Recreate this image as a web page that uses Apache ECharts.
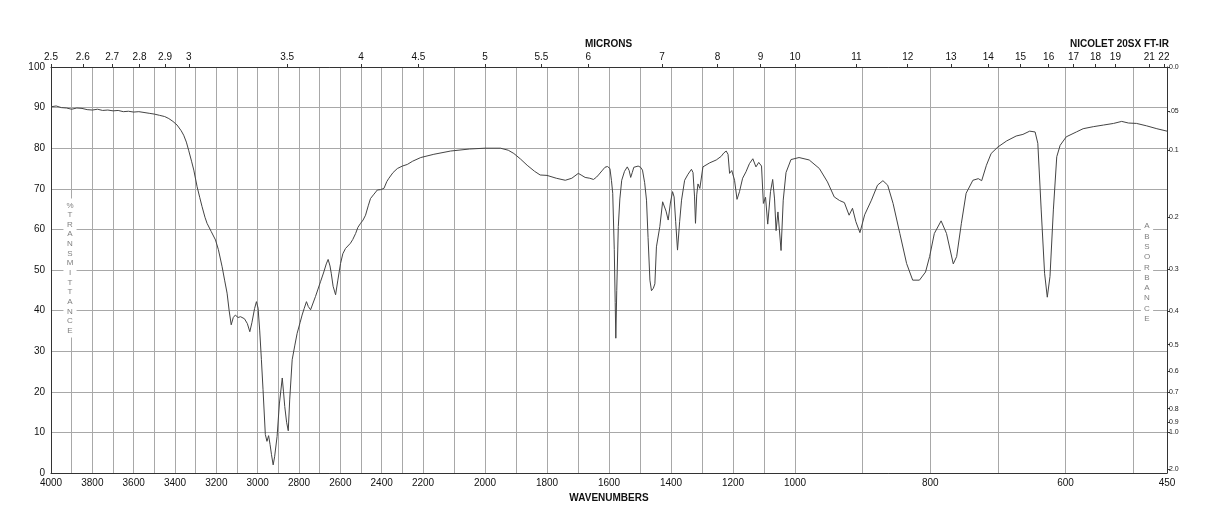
<!DOCTYPE html>
<html><head><meta charset="utf-8">
<script src="https://cdn.jsdelivr.net/npm/echarts@6/dist/echarts.min.js"></script>
<style>html,body{margin:0;padding:0;background:#fff}#c{width:1218px;height:528px}</style>
</head><body><div id="c"></div>
<script>
// Spectrum readings (wavenumber cm-1, %T)
const wavenumbers = [4000,3975,3950,3925,3900,3875,3850,3825,3800,3775,3750,3725,3700,3675,3650,3625,3600,3575,3550,3525,3500,3475,3450,3430,3410,3390,3370,3358,3345,3334,3320,3309,3293,3280,3269,3255,3245,3225,3204,3190,3172,3160,3148,3138,3128,3118,3108,3095,3083,3064,3050,3038,3028,3015,3006,2998,2990,2982,2974,2963,2955,2947,2940,2933,2925,2918,2906,2895,2881,2875,2869,2860,2852,2845,2833,2820,2809,2795,2785,2775,2764,2755,2744,2735,2720,2696,2680,2668,2659,2650,2644,2635,2623,2612,2599,2588,2575,2551,2540,2526,2515,2502,2490,2478,2465,2454,2440,2421,2405,2389,2375,2365,2345,2324,2300,2276,2250,2211,2165,2111,2050,2000,1950,1925,1907,1885,1864,1840,1822,1800,1770,1741,1720,1699,1690,1677,1662,1650,1640,1634,1623,1613,1605,1597,1592,1588,1583,1580,1578,1575,1570,1565,1559,1550,1541,1535,1530,1525,1520,1506,1498,1492,1485,1479,1474,1468,1463,1457,1452,1447,1436,1427,1422,1416,1409,1402,1395,1390,1385,1379,1372,1366,1356,1345,1334,1329,1324,1321,1317,1313,1307,1297,1275,1254,1238,1230,1222,1216,1211,1204,1195,1187,1179,1169,1158,1147,1136,1126,1117,1108,1102,1095,1088,1079,1072,1066,1061,1055,1045,1038,1029,1013,994,979,964,952,942,934,927,920,915,910,904,897,887,878,870,863,855,845,835,826,816,807,801,794,784,776,766,761,754,747,737,729,724,717,710,700,687,673,663,653,645,641,636,631,627,623,618,613,608,599,584,574,559,544,529,517,507,495,480,465,450];
const transmittance = [90.2,90.4,90.0,89.9,89.6,89.9,89.8,89.5,89.4,89.6,89.3,89.4,89.2,89.3,89.0,89.1,88.9,89.0,88.8,88.6,88.4,88.1,87.8,87.3,86.6,85.7,84.3,83.2,81.5,79.5,76.8,74.6,70.5,67.8,65.6,63.0,61.5,59.5,57.4,55.0,50.8,47.5,44.3,40.0,36.5,38.3,38.9,38.3,38.5,38.0,36.8,34.8,37.0,40.5,42.2,40.6,35.0,28.0,20.5,9.5,7.8,9.2,7.0,4.5,2.0,4.0,9.0,17.0,23.4,20.0,16.4,12.5,10.4,18.0,27.9,31.5,34.4,37.0,38.9,40.5,42.2,41.0,40.2,40.6,43.5,47.1,49.5,51.5,52.6,51.0,49.2,46.0,43.9,47.5,51.6,54.0,55.3,56.6,57.5,59.0,60.5,61.5,62.3,63.5,65.8,67.6,68.5,69.7,69.8,70.1,71.8,72.6,74.0,75.0,75.6,76.0,76.8,77.7,78.5,79.3,79.8,80.0,80.0,79.5,78.7,77.3,75.8,74.3,73.4,73.3,72.6,72.1,72.6,73.8,73.4,72.8,72.6,72.3,72.9,73.4,74.4,75.3,75.5,75.0,72.0,68.9,55.0,42.0,33.2,45.0,60.7,67.5,72.1,74.3,75.4,74.5,72.8,74.0,75.3,75.6,75.3,74.6,71.5,67.2,58.0,47.5,44.9,45.5,46.6,55.7,60.7,66.8,66.8,64.5,62.3,66.5,69.3,68.0,62.0,54.9,62.0,67.2,72.1,73.6,74.8,74.0,68.0,61.5,68.5,71.2,70.1,75.4,76.4,77.1,78.0,78.8,79.3,78.5,73.8,74.5,72.1,67.4,69.3,72.6,74.2,76.2,77.4,75.4,76.5,75.6,66.4,67.9,61.3,69.3,72.3,67.5,59.7,64.3,54.8,67.2,74.0,77.2,77.7,77.1,75.0,71.7,68.0,67.1,66.6,63.5,65.2,61.9,59.2,63.6,67.2,70.9,72.0,70.9,66.4,59.0,51.6,47.5,47.5,49.5,53.3,59.0,62.1,59.0,51.5,53.3,61.5,68.9,72.1,72.5,72.0,75.8,78.7,80.3,81.8,83.0,83.4,84.2,84.0,81.2,64.8,49.2,43.3,48.4,64.8,77.9,80.7,82.8,84.0,84.8,85.3,85.7,86.1,86.6,86.2,86.1,85.5,84.8,84.2];

// Axis tick labels
const wavenumberLabels = [4000,3800,3600,3400,3200,3000,2800,2600,2400,2200,2000,1800,1600,1400,1200,1000,800,600,450];
const wavenumberGrid = [4000,3900,3800,3700,3600,3500,3400,3300,3200,3100,3000,2900,2800,2700,2600,2500,2400,2300,2200,2100,2000,1900,1800,1700,1600,1500,1400,1300,1200,1100,1000,900,800,700,600,500,450];
const micronLabels = [2.5,2.6,2.7,2.8,2.9,3,3.5,4,4.5,5,5.5,6,7,8,9,10,11,12,13,14,15,16,17,18,19,21,22];
const absorbanceLabels = ['0.0','.05','0.1','0.2','0.3','0.4','0.5','0.6','0.7','0.8','0.9','1.0','2.0'];
const absorbanceValues = [0,0.05,0.1,0.2,0.3,0.4,0.5,0.6,0.7,0.8,0.9,1.0,2.0];

// Piecewise-linear wavenumber scale (three equal-width segments)
function tx(w){
  if (w >= 2200) return (4000 - w) / 1800;
  if (w >= 1000) return 1 + (2200 - w) / 1200;
  return 2 + (1000 - w) / 550;
}
const FONT = "'Liberation Sans', Arial, sans-serif";
const labelPos = wavenumberLabels.map(tx);
const gridPos = wavenumberGrid.map(tx);
const micronPos = micronLabels.map(m => tx(10000 / m));
const absPos = absorbanceValues.map(a => 100 * Math.pow(10, -a));

function nearestIdx(arr, v){
  let bi = 0, bd = Infinity;
  arr.forEach((x, i) => { const d = Math.abs(x - v); if (d < bd) { bd = d; bi = i; } });
  return bi;
}

const chart = echarts.init(document.getElementById('c'), null, {renderer: 'canvas'});
chart.setOption({
  animation: false,
  backgroundColor: '#fff',
  textStyle: {fontFamily: FONT},
  grid: {left: 51, right: 51, top: 67, bottom: 55, containLabel: false},
  xAxis: [
    {
      type: 'value', min: 0, max: 3, position: 'bottom',
      axisLine: {show: true, onZero: false, lineStyle: {color: '#333', width: 1}},
      axisTick: {show: false, customValues: gridPos},
      splitLine: {show: true, lineStyle: {color: '#a8a8a8', width: 1}},
      axisLabel: {customValues: labelPos, fontSize: 10, color: '#111', margin: 5, fontFamily: FONT,
        formatter: v => String(wavenumberLabels[nearestIdx(labelPos, v)])},
      name: 'WAVENUMBERS', nameLocation: 'middle', nameGap: 20,
      nameTextStyle: {fontSize: 10, fontWeight: 'bold', color: '#111', fontFamily: FONT}
    },
    {
      type: 'value', min: 0, max: 3, position: 'top',
      axisLine: {show: true, onZero: false, lineStyle: {color: '#333', width: 1}},
      axisTick: {show: true, customValues: micronPos, length: 3, inside: false, lineStyle: {color: '#333'}},
      splitLine: {show: false},
      axisLabel: {customValues: micronPos, fontSize: 10, color: '#111', margin: 5, fontFamily: FONT,
        formatter: v => String(micronLabels[nearestIdx(micronPos, v)])}
    }
  ],
  yAxis: [
    {
      type: 'value', min: 0, max: 100, interval: 10, position: 'left',
      axisLine: {show: true, onZero: false, lineStyle: {color: '#333', width: 1}},
      axisTick: {show: false},
      splitLine: {show: true, lineStyle: {color: '#a8a8a8', width: 1}},
      axisLabel: {fontSize: 10, color: '#111', margin: 6, fontFamily: FONT}
    },
    {
      type: 'value', min: 0, max: 100, position: 'right',
      axisLine: {show: true, onZero: false, lineStyle: {color: '#333', width: 1}},
      axisTick: {show: true, customValues: absPos, length: 3, inside: false, lineStyle: {color: '#333'}},
      splitLine: {show: false},
      axisLabel: {customValues: absPos, fontSize: 7, color: '#222', margin: 2, fontFamily: FONT,
        formatter: v => absorbanceLabels[nearestIdx(absPos, v)]}
    }
  ],
  graphic: [
    {type: 'text', left: 585, top: 39, style: {text: 'MICRONS', font: "bold 10px " + FONT, fill: '#111'}},
    {type: 'text', left: 1070, top: 39, style: {text: 'NICOLET 20SX FT-IR', font: "bold 10px " + FONT, fill: '#111'}},
    {type: 'text', x: 70, y: 198.5, z: 10, style: {
      text: '%\nT\nR\nA\nN\nS\nM\nI\nT\nT\nA\nN\nC\nE', font: "8px " + FONT, lineHeight: 9.65,
      fill: '#808080', align: 'center', verticalAlign: 'top', backgroundColor: '#fff', padding: [2, 3]}},
    {type: 'text', x: 1147, y: 219, z: 10, style: {
      text: 'A\nB\nS\nO\nR\nB\nA\nN\nC\nE', font: "8px " + FONT, lineHeight: 10.3,
      fill: '#808080', align: 'center', verticalAlign: 'top', backgroundColor: '#fff', padding: [2, 3]}}
  ],
  series: [{
    type: 'line', xAxisIndex: 0, yAxisIndex: 0, showSymbol: false, smooth: false,
    lineStyle: {color: '#444', width: 1},
    data: wavenumbers.map((w, i) => [tx(w), transmittance[i]])
  }]
});
</script></body></html>
